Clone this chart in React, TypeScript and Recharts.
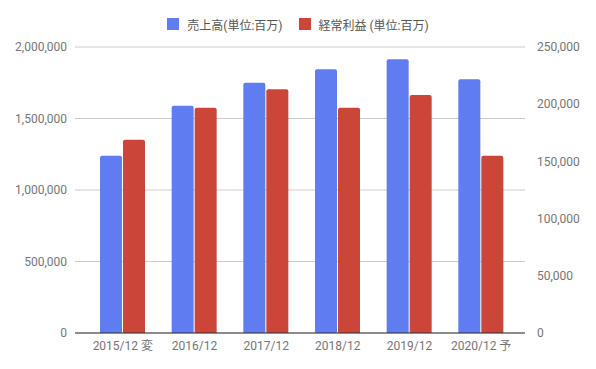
import React from 'react';
import { BarChart, Bar, XAxis, YAxis, CartesianGrid, Legend } from 'recharts';

const categories = ['2015/12 変', '2016/12', '2017/12', '2018/12', '2019/12', '2020/12 予'];
const sales = [1240000, 1590000, 1750000, 1845000, 1915000, 1775000];
const ordinaryProfit = [169000, 197000, 213000, 197000, 208000, 155000];
const leftTicks = [0, 500000, 1000000, 1500000, 2000000];
const rightTicks = [0, 50000, 100000, 150000, 200000, 250000];

const salesName = '売上高(単位:百万)';
const profitName = '経常利益 (単位:百万)';

const BLUE = '#5f7cf0';
const RED = '#cc4539';

const data = categories.map((name, i) => ({
  name,
  sales: sales[i],
  profit: ordinaryProfit[i],
}));

const fmt = (v: number) => v.toLocaleString('en-US');

const FONT = 'Roboto, "Noto Sans CJK JP", sans-serif';

const LegendContent: React.FC<any> = () => {
  const items = [
    { label: salesName, color: BLUE },
    { label: profitName, color: RED },
  ];
  return (
    <div
      style={{
        display: 'flex',
        justifyContent: 'center',
        alignItems: 'center',
        height: 20,
        fontFamily: FONT,
        fontSize: 12,
        color: '#555',
      }}
    >
      {items.map((it, i) => (
        <div key={it.label} style={{ display: 'flex', alignItems: 'center', marginLeft: i ? 16 : 0 }}>
          <span style={{ width: 12, height: 12, background: it.color, marginRight: 8, display: 'inline-block' }} />
          <span>{it.label}</span>
        </div>
      ))}
    </div>
  );
};

const App: React.FC = () => {
  const tick = { fill: '#757575', fontSize: 12, fontFamily: FONT };
  return (
    <div style={{ position: 'absolute', left: 0, top: 0, background: '#fff' }}>
      <BarChart
        width={596}
        height={369}
        data={data}
        margin={{ top: 27, right: 0, left: 0, bottom: 6 }}
        barSize={22}
        barGap={1}
      >
        <CartesianGrid yAxisId="left" vertical={false} stroke="#cccccc" />
        <XAxis
          dataKey="name"
          tick={tick}
          tickLine={false}
          axisLine={{ stroke: '#333333' }}
          padding={{ left: 12, right: 8 }}
          interval={0}
        />
        <YAxis
          yAxisId="left"
          width={75}
          domain={[0, 2000000]}
          ticks={leftTicks}
          tickFormatter={fmt}
          tick={tick}
          tickLine={false}
          axisLine={false}
        />
        <YAxis
          yAxisId="right"
          orientation="right"
          width={71}
          domain={[0, 250000]}
          ticks={rightTicks}
          tickFormatter={fmt}
          tick={{ ...tick, textAnchor: 'start' }}
          tickLine={false}
          tickMargin={6}
          axisLine={false}
        />
        <Legend verticalAlign="top" content={<LegendContent />} wrapperStyle={{ top: 14 }} />
        <Bar yAxisId="left" dataKey="sales" name={salesName} fill={BLUE} radius={[2, 2, 0, 0]} isAnimationActive={false} />
        <Bar yAxisId="right" dataKey="profit" name={profitName} fill={RED} radius={[2, 2, 0, 0]} isAnimationActive={false} />
      </BarChart>
    </div>
  );
};

export default App;
